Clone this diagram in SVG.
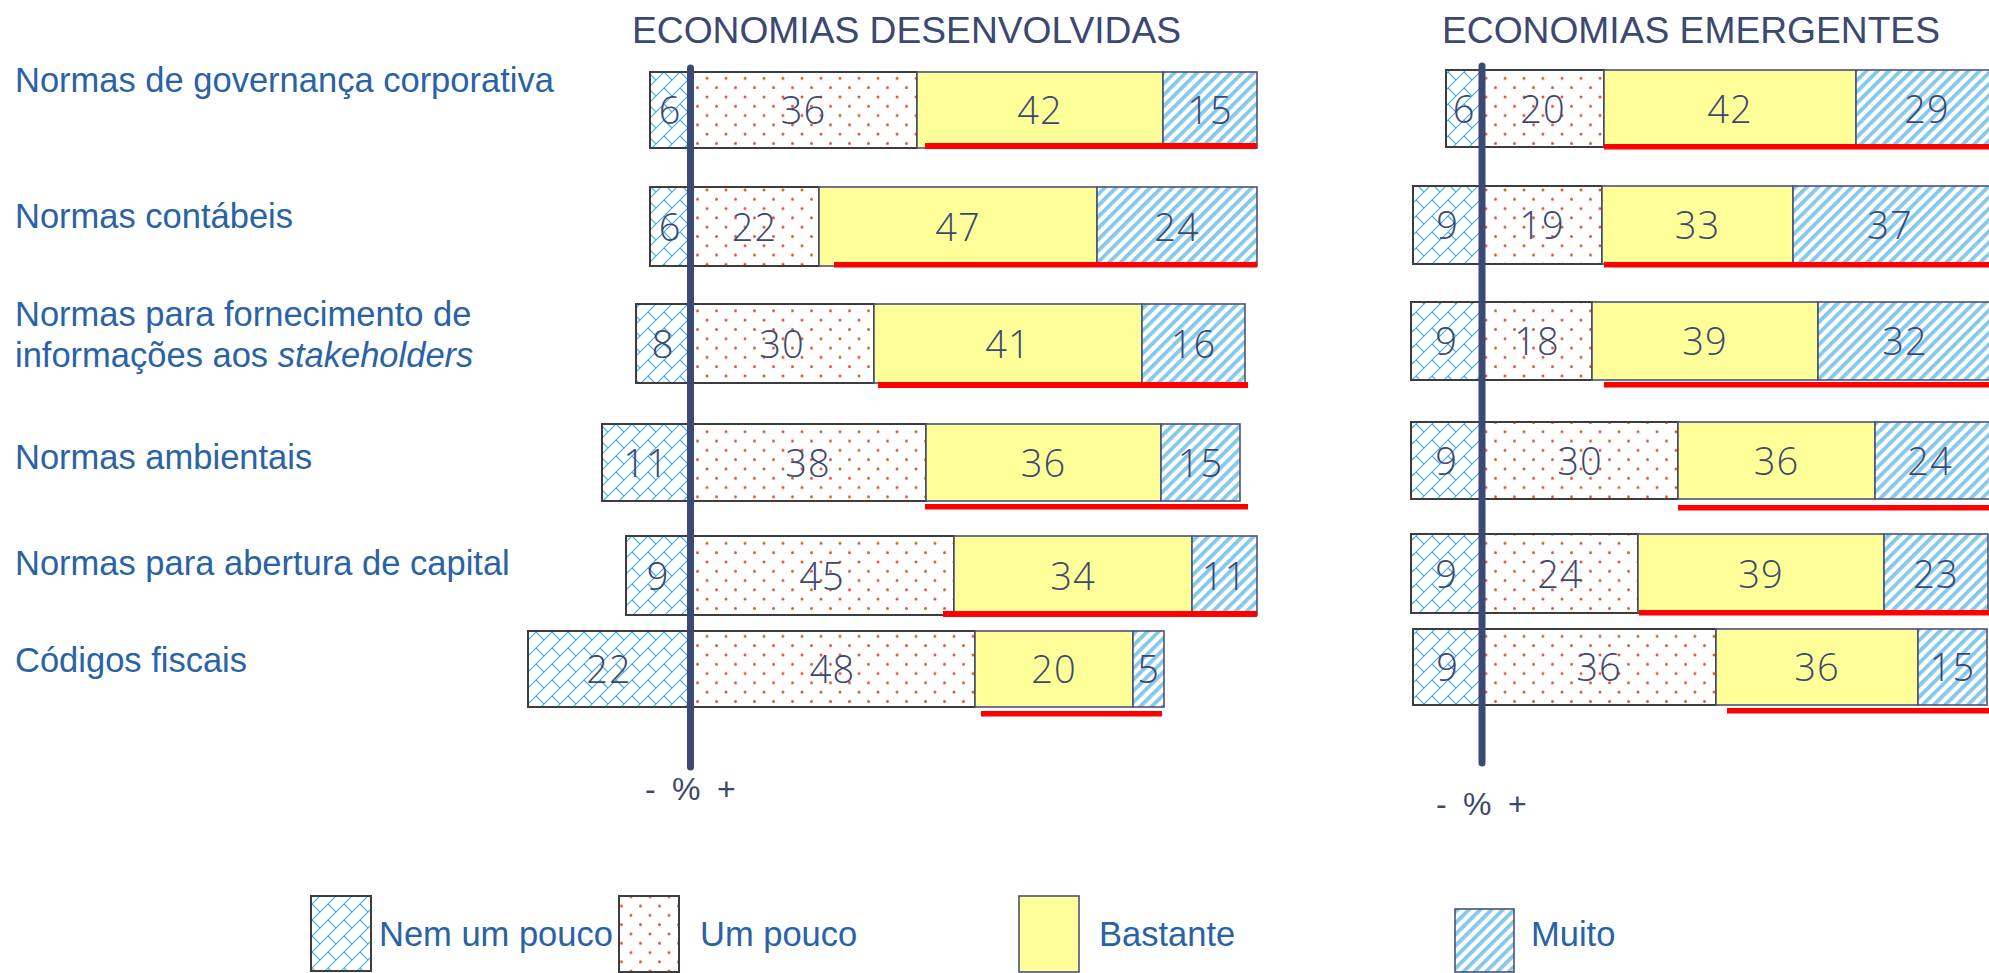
<svg xmlns="http://www.w3.org/2000/svg" width="1989" height="973" viewBox="0 0 1989 973">
<defs>
<pattern id="brick" patternUnits="userSpaceOnUse" width="16" height="16">
<rect width="16" height="16" fill="#fff"/>
<path d="M0 16 L16 0 M8 8 L16 16 M-1 1 L1 -1 M15 17 L17 15" stroke="#45aede" stroke-width="1.2" fill="none"/>
</pattern>
<pattern id="dots" patternUnits="userSpaceOnUse" width="19" height="18.6">
<rect width="19" height="18.6" fill="#fff"/>
<circle cx="4" cy="4" r="1.5" fill="#e4542a"/>
<circle cx="13.5" cy="13.3" r="1.5" fill="#e4542a"/>
</pattern>
<pattern id="stripes" patternUnits="userSpaceOnUse" width="8" height="8" patternTransform="rotate(45)">
<rect width="8" height="8" fill="#fff"/>
<rect width="3.8" height="8" fill="#86c8e8"/>
</pattern>
</defs>
<style>
.lab{font-family:"Liberation Sans",Arial,sans-serif;font-size:34.5px;fill:#2a62a6}
.ttl{font-family:"Liberation Sans",Arial,sans-serif;font-size:37.2px;fill:#3a4872}
.num{font-family:"Open Sans","Liberation Sans",Arial,sans-serif;font-weight:300;font-size:38px;fill:#3c4870;text-anchor:middle;letter-spacing:1px}
.pm{font-family:"Liberation Sans",Arial,sans-serif;font-size:32px;fill:#3c4870;word-spacing:7.5px}
.nem{fill:url(#brick);stroke:#3d3d3d;stroke-width:2}
.um{fill:url(#dots);stroke:#3d3d3d;stroke-width:2}
.bas{fill:#ffff99;stroke:#4b5278;stroke-width:1.6}
.mui{fill:url(#stripes);stroke:#4b5278;stroke-width:1.6}
.red{fill:#ff0000}
.axis{stroke:#3a4a75;stroke-width:7;stroke-linecap:round}
</style>
<rect width="1989" height="973" fill="#fff"/>

<g id="titles">
<text class="ttl" x="632" y="43">ECONOMIAS DESENVOLVIDAS</text>
<text class="ttl" x="1442" y="43">ECONOMIAS EMERGENTES</text>
</g>

<g id="labels">
<text class="lab" x="15" y="92">Normas de governança corporativa</text>
<text class="lab" x="15" y="228">Normas contábeis</text>
<text class="lab" x="15" y="326">Normas para fornecimento de</text>
<text class="lab" x="15" y="367">informações aos <tspan font-style="italic">stakeholders</tspan></text>
<text class="lab" x="15" y="469">Normas ambientais</text>
<text class="lab" x="15" y="575">Normas para abertura de capital</text>
<text class="lab" x="15" y="672">Códigos fiscais</text>
</g>

<g id="chart-desenvolvidas">
<g id="d-row1">
<rect class="nem" x="650" y="72" width="40" height="76"/>
<rect class="um" x="690" y="72" width="227" height="76"/>
<rect class="bas" x="917" y="72" width="246" height="76"/>
<rect class="mui" x="1163" y="72" width="94" height="76"/>
<rect class="red" x="925" y="143" width="332" height="6"/>
<text class="num" x="670" y="124">6</text><text class="num" x="803.5" y="124">36</text><text class="num" x="1040" y="124">42</text><text class="num" x="1210" y="124">15</text>
</g>
<g id="d-row2">
<rect class="nem" x="650" y="187" width="40" height="79"/>
<rect class="um" x="690" y="187" width="129" height="79"/>
<rect class="bas" x="819" y="187" width="278" height="79"/>
<rect class="mui" x="1097" y="187" width="160" height="79"/>
<rect class="red" x="834" y="262" width="423" height="5.5"/>
<text class="num" x="670" y="240.5">6</text><text class="num" x="754.5" y="240.5">22</text><text class="num" x="958" y="240.5">47</text><text class="num" x="1177" y="240.5">24</text>
</g>
<g id="d-row3">
<rect class="nem" x="636" y="304" width="54" height="79"/>
<rect class="um" x="690" y="304" width="184" height="79"/>
<rect class="bas" x="874" y="304" width="268" height="79"/>
<rect class="mui" x="1142" y="304" width="103" height="79"/>
<rect class="red" x="878" y="382" width="370" height="6"/>
<text class="num" x="663" y="357.5">8</text><text class="num" x="782" y="357.5">30</text><text class="num" x="1008" y="357.5">41</text><text class="num" x="1193.5" y="357.5">16</text>
</g>
<g id="d-row4">
<rect class="nem" x="602" y="424" width="88" height="77"/>
<rect class="um" x="690" y="424" width="236" height="77"/>
<rect class="bas" x="926" y="424" width="235" height="77"/>
<rect class="mui" x="1161" y="424" width="79" height="77"/>
<rect class="red" x="925" y="504" width="323" height="5.5"/>
<text class="num" x="646" y="476.5">11</text><text class="num" x="808" y="476.5">38</text><text class="num" x="1043.5" y="476.5">36</text><text class="num" x="1200.5" y="476.5">15</text>
</g>
<g id="d-row5">
<rect class="nem" x="626" y="536" width="64" height="79"/>
<rect class="um" x="690" y="536" width="264" height="79"/>
<rect class="bas" x="954" y="536" width="238" height="79"/>
<rect class="mui" x="1192" y="536" width="65" height="79"/>
<rect class="red" x="943" y="611" width="314" height="6"/>
<text class="num" x="658" y="589.5">9</text><text class="num" x="822" y="589.5">45</text><text class="num" x="1073" y="589.5">34</text><text class="num" x="1224.5" y="589.5">11</text>
</g>
<g id="d-row6">
<rect class="nem" x="528" y="631" width="162" height="76"/>
<rect class="um" x="690" y="631" width="285" height="76"/>
<rect class="bas" x="975" y="631" width="158" height="76"/>
<rect class="mui" x="1133" y="631" width="31" height="76"/>
<rect class="red" x="981" y="711" width="181" height="5.5"/>
<text class="num" x="609" y="683">22</text><text class="num" x="832.5" y="683">48</text><text class="num" x="1054" y="683">20</text><text class="num" x="1148.5" y="683">5</text>
</g>
<line class="axis" x1="690.5" y1="68" x2="690.5" y2="767"/>
<text class="pm" x="645" y="800">- % +</text>
</g>

<g id="chart-emergentes">
<g id="e-row1">
<rect class="nem" x="1446" y="70" width="36" height="77"/>
<rect class="um" x="1482" y="70" width="122" height="77"/>
<rect class="bas" x="1604" y="70" width="252" height="77"/>
<rect class="mui" x="1856" y="70" width="139" height="77"/>
<rect class="red" x="1604" y="144" width="390" height="5.5"/>
<text class="num" x="1464" y="122.5">6</text><text class="num" x="1543" y="122.5">20</text><text class="num" x="1730" y="122.5">42</text><text class="num" x="1927" y="122.5">29</text>
</g>
<g id="e-row2">
<rect class="nem" x="1413" y="186" width="69" height="78"/>
<rect class="um" x="1482" y="186" width="120" height="78"/>
<rect class="bas" x="1602" y="186" width="191" height="78"/>
<rect class="mui" x="1793" y="186" width="202" height="78"/>
<rect class="red" x="1604" y="262" width="390" height="5.5"/>
<text class="num" x="1447.5" y="239">9</text><text class="num" x="1542" y="239">19</text><text class="num" x="1697.5" y="239">33</text><text class="num" x="1890" y="239">37</text>
</g>
<g id="e-row3">
<rect class="nem" x="1411" y="302" width="71" height="78"/>
<rect class="um" x="1482" y="302" width="110" height="78"/>
<rect class="bas" x="1592" y="302" width="226" height="78"/>
<rect class="mui" x="1818" y="302" width="177" height="78"/>
<rect class="red" x="1604" y="382" width="390" height="5.5"/>
<text class="num" x="1446.5" y="355">9</text><text class="num" x="1537" y="355">18</text><text class="num" x="1705" y="355">39</text><text class="num" x="1905" y="355">32</text>
</g>
<g id="e-row4">
<rect class="nem" x="1411" y="422" width="71" height="77"/>
<rect class="um" x="1482" y="422" width="196" height="77"/>
<rect class="bas" x="1678" y="422" width="197" height="77"/>
<rect class="mui" x="1875" y="422" width="120" height="77"/>
<rect class="red" x="1678" y="505" width="316" height="5.5"/>
<text class="num" x="1446.5" y="474.5">9</text><text class="num" x="1580" y="474.5">30</text><text class="num" x="1776.5" y="474.5">36</text><text class="num" x="1930" y="474.5">24</text>
</g>
<g id="e-row5">
<rect class="nem" x="1411" y="534" width="71" height="79"/>
<rect class="um" x="1482" y="534" width="156" height="79"/>
<rect class="bas" x="1638" y="534" width="246" height="79"/>
<rect class="mui" x="1884" y="534" width="104" height="79"/>
<rect class="red" x="1639" y="610" width="355" height="5.5"/>
<text class="num" x="1446.5" y="587.5">9</text><text class="num" x="1560" y="587.5">24</text><text class="num" x="1761" y="587.5">39</text><text class="num" x="1936" y="587.5">23</text>
</g>
<g id="e-row6">
<rect class="nem" x="1413" y="629" width="69" height="76"/>
<rect class="um" x="1482" y="629" width="234" height="76"/>
<rect class="bas" x="1716" y="629" width="202" height="76"/>
<rect class="mui" x="1918" y="629" width="69" height="76"/>
<rect class="red" x="1727" y="708" width="267" height="5.5"/>
<text class="num" x="1447.5" y="681">9</text><text class="num" x="1599" y="681">36</text><text class="num" x="1817" y="681">36</text><text class="num" x="1952.5" y="681">15</text>
</g>
<line class="axis" x1="1482" y1="66" x2="1482" y2="763"/>
<text class="pm" x="1436" y="815">- % +</text>
</g>

<g id="legend">
<g id="leg-nem"><rect class="nem" x="311" y="896" width="60" height="75"/><text class="lab" x="379" y="946">Nem um pouco</text></g>
<g id="leg-um"><rect class="um" x="619" y="896" width="60" height="76"/><text class="lab" x="700" y="946">Um pouco</text></g>
<g id="leg-bas"><rect class="bas" x="1019" y="896" width="60" height="76"/><text class="lab" x="1099" y="946">Bastante</text></g>
<g id="leg-mui"><rect class="mui" x="1455" y="909" width="59" height="63"/><text class="lab" x="1531" y="946">Muito</text></g>
</g>
</svg>
